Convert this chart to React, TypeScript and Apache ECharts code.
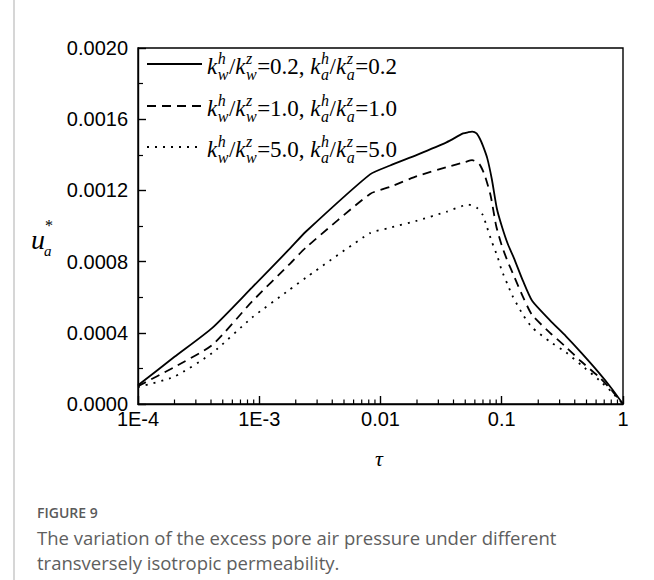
import React, { useEffect, useRef } from "react";
import * as echarts from "echarts";

// ---- data ----
const solidTau = [1e-4, 2e-4, 4.1e-4, 8.7e-4, 1.76e-3, 2.43e-3, 8.2e-3, 0.012, 0.02, 0.035, 0.048, 0.053, 0.057, 0.062, 0.066, 0.07, 0.076, 0.083, 0.091, 0.1, 0.112, 0.126, 0.15, 0.178, 0.25, 0.339, 0.45, 0.634, 0.8, 1];
const solidU = [0.000105, 0.000265, 0.000428, 0.000654, 0.000868, 0.000969, 0.00129, 0.00134, 0.0014, 0.00147, 0.00152, 0.001527, 0.00153, 0.00152, 0.00149, 0.00145, 0.00138, 0.00126, 0.0011, 0.001, 0.0009, 0.00082, 0.00069, 0.00058, 0.00047, 0.00038, 0.00029, 0.000175, 0.00009, 0];

const dashTau = [1e-4, 2e-4, 4.1e-4, 8.7e-4, 1.76e-3, 2.43e-3, 8.2e-3, 0.012, 0.02, 0.035, 0.05, 0.057, 0.065, 0.072, 0.081, 0.09, 0.1, 0.112, 0.126, 0.15, 0.178, 0.25, 0.339, 0.45, 0.634, 0.8, 1];
const dashU = [0.0001, 0.000208, 0.000332, 0.000575, 0.000783, 0.000879, 0.00118, 0.00122, 0.00128, 0.00133, 0.00136, 0.00137, 0.00135, 0.00129, 0.00117, 0.001, 0.00089, 0.0008, 0.00072, 0.0006, 0.0005, 0.0004, 0.00032, 0.00024, 0.000152, 0.00008, 0];

const dotTau = [1e-4, 2e-4, 4.1e-4, 8.7e-4, 1.76e-3, 2.43e-3, 8.2e-3, 0.012, 0.02, 0.035, 0.053, 0.063, 0.07, 0.075, 0.083, 0.092, 0.1, 0.112, 0.122, 0.15, 0.178, 0.25, 0.339, 0.45, 0.634, 0.8, 1];
const dotU = [0.000095, 0.000154, 0.000287, 0.000485, 0.00064, 0.00071, 0.00096, 0.00099, 0.00103, 0.00108, 0.00112, 0.0011, 0.00106, 0.001, 0.00091, 0.00083, 0.00075, 0.00067, 0.00061, 0.0005, 0.00043, 0.00035, 0.00029, 0.00022, 0.000135, 0.00007, 0];

const ratios = ["0.2", "1.0", "5.0"];
const xTickLabels: Record<number, string> = { [-4]: "1E-4", [-3]: "1E-3", [-2]: "0.01", [-1]: "0.1", [0]: "1" };
const minorDecades = [-4, -3, -2, -1];

const SERIF = '"Liberation Serif", "Times New Roman", serif';
const SANS = '"Liberation Sans", Arial, sans-serif';

function measure(text: string, font: string): number {
  const c = document.createElement("canvas").getContext("2d")!;
  c.font = font;
  return c.measureText(text).width;
}

function legendRow(x0: number, y: number, ratio: string): any[] {
  const big = 23;
  const small = 16;
  const els: any[] = [];
  let x = x0;
  const addMain = (t: string, italic: boolean) => {
    const font = `${italic ? "italic " : ""}${big}px ${SERIF}`;
    els.push({
      type: "text",
      x,
      y: y + 2,
      style: { text: t, font, fill: "#000", verticalAlign: "middle", align: "left" },
    });
    x += measure(t, font);
  };
  const addStack = (sup: string, sub: string) => {
    const font = `italic ${small}px ${SERIF}`;
    const sx = x + 0.5;
    els.push({ type: "text", x: sx, y: y - 6, style: { text: sup, font, fill: "#000", verticalAlign: "middle" } });
    els.push({ type: "text", x: sx, y: y + 10, style: { text: sub, font, fill: "#000", verticalAlign: "middle" } });
    x = sx + Math.max(measure(sup, font), measure(sub, font)) + 0.5;
  };
  addMain("k", true);
  addStack("h", "w");
  addMain("/", false);
  addMain("k", true);
  addStack("z", "w");
  addMain(`=${ratio}, `, false);
  addMain("k", true);
  addStack("h", "a");
  addMain("/", false);
  addMain("k", true);
  addStack("z", "a");
  addMain(`=${ratio}`, false);
  return els;
}

export default function App() {
  const ref = useRef<HTMLDivElement>(null);
  useEffect(() => {
    const chart = echarts.init(ref.current!, undefined, { renderer: "svg" });
    const mk = (t: number[], u: number[]) => t.map((v, i) => [v, u[i]]);
    const lineStyles = [
      { color: "#000", width: 1.8, type: "solid" as any },
      { color: "#000", width: 1.8, type: [9, 6] as any },
      { color: "#000", width: 1.8, type: [2, 6] as any },
    ];
    const datasets = [mk(solidTau, solidU), mk(dashTau, dashU), mk(dotTau, dotU)];
    const option: any = {
      animation: false,
      backgroundColor: "#fff",
      grid: {
        left: 138,
        right: 31,
        top: 48,
        bottom: 176,
        show: true,
        borderColor: "#000",
        borderWidth: 1.4,
        backgroundColor: "transparent",
      },
      xAxis: {
        type: "log",
        logBase: 10,
        min: 1e-4,
        max: 1,
        axisLine: { show: true, lineStyle: { color: "#000", width: 1.4 } },
        axisTick: { show: true, inside: true, length: 8, lineStyle: { color: "#000", width: 1.4 } },
        splitLine: { show: false },
        axisLabel: {
          color: "#000",
          fontFamily: SANS,
          fontSize: 20,
          margin: 5,
          formatter: (v: number) => xTickLabels[Math.round(Math.log10(v))] ?? "",
        },
      },
      yAxis: {
        type: "value",
        min: 0,
        max: 0.002,
        interval: 0.0004,
        axisLine: { show: true, lineStyle: { color: "#000", width: 1.4 } },
        axisTick: { show: true, inside: true, length: 8, lineStyle: { color: "#000", width: 1.4 } },
        minorTick: { show: true, splitNumber: 2, length: 5, lineStyle: { color: "#000", width: 1.2 } },
        splitLine: { show: false },
        minorSplitLine: { show: false },
        axisLabel: {
          color: "#000",
          fontFamily: SANS,
          fontSize: 20,
          margin: 10,
          formatter: (v: number) => v.toFixed(4),
        },
      },
      series: datasets.map((d, i) => ({
        type: "line",
        data: d,
        showSymbol: false,
        symbol: "none",
        smooth: 0.2,
        lineStyle: lineStyles[i],
        silent: true,
      })),
    };
    chart.setOption(option);

    // minor ticks on the log x-axis, positioned through the axis scale
    const graphics: any[] = [];
    const yBottom = chart.convertToPixel({ yAxisIndex: 0 }, 0) as number;
    minorDecades.forEach((d) => {
      for (let m = 2; m <= 9; m++) {
        const v = m * Math.pow(10, d);
        const px = chart.convertToPixel({ xAxisIndex: 0 }, v) as number;
        graphics.push({
          type: "line",
          shape: { x1: px, y1: yBottom, x2: px, y2: yBottom - 4.5 },
          style: { stroke: "#000", lineWidth: 1.2 },
          silent: true,
        });
      }
    });

    // legend
    const rowsY = [64, 106, 147];
    rowsY.forEach((ry, i) => {
      graphics.push({
        type: "line",
        shape: { x1: 147, y1: ry, x2: 202, y2: ry },
        style: {
          stroke: "#000",
          lineWidth: 1.8,
          lineDash: i === 0 ? null : i === 1 ? [9, 6] : [2, 6],
        },
      });
      graphics.push(...legendRow(207, ry, ratios[i]));
    });

    // axis names
    graphics.push(
      { type: "text", x: 31, y: 239, style: { text: "u", font: `italic 28px ${SERIF}`, fill: "#000", verticalAlign: "middle" } },
      { type: "text", x: 45, y: 225, style: { text: "*", font: `16px ${SERIF}`, fill: "#000", verticalAlign: "middle" } },
      { type: "text", x: 44, y: 251, style: { text: "a", font: `italic 15px ${SERIF}`, fill: "#000", verticalAlign: "middle" } },
      { type: "text", x: 379, y: 458, style: { text: "τ", font: `italic 22px ${SERIF}`, fill: "#000", align: "center", verticalAlign: "middle" } }
    );

    // figure frame + caption
    graphics.push(
      { type: "line", shape: { x1: 14, y1: 0, x2: 14, y2: 580 }, style: { stroke: "#c8c8c8", lineWidth: 1.5 } },
      { type: "text", x: 37, y: 512, style: { text: "FIGURE 9", font: `600 14px "Open Sans", sans-serif`, fill: "#5a5a5a", verticalAlign: "middle" } },
      { type: "text", x: 37, y: 537, style: { text: "The variation of the excess pore air pressure under different", font: `18.5px "Open Sans", sans-serif`, fill: "#5e5e5e", verticalAlign: "middle" } },
      { type: "text", x: 37, y: 562, style: { text: "transversely isotropic permeability.", font: `18.5px "Open Sans", sans-serif`, fill: "#5e5e5e", verticalAlign: "middle" } }
    );

    chart.setOption({ graphic: graphics });
    return () => chart.dispose();
  }, []);
  return <div ref={ref} style={{ position: "fixed", left: 0, top: 0, width: 654, height: 580 }} />;
}
